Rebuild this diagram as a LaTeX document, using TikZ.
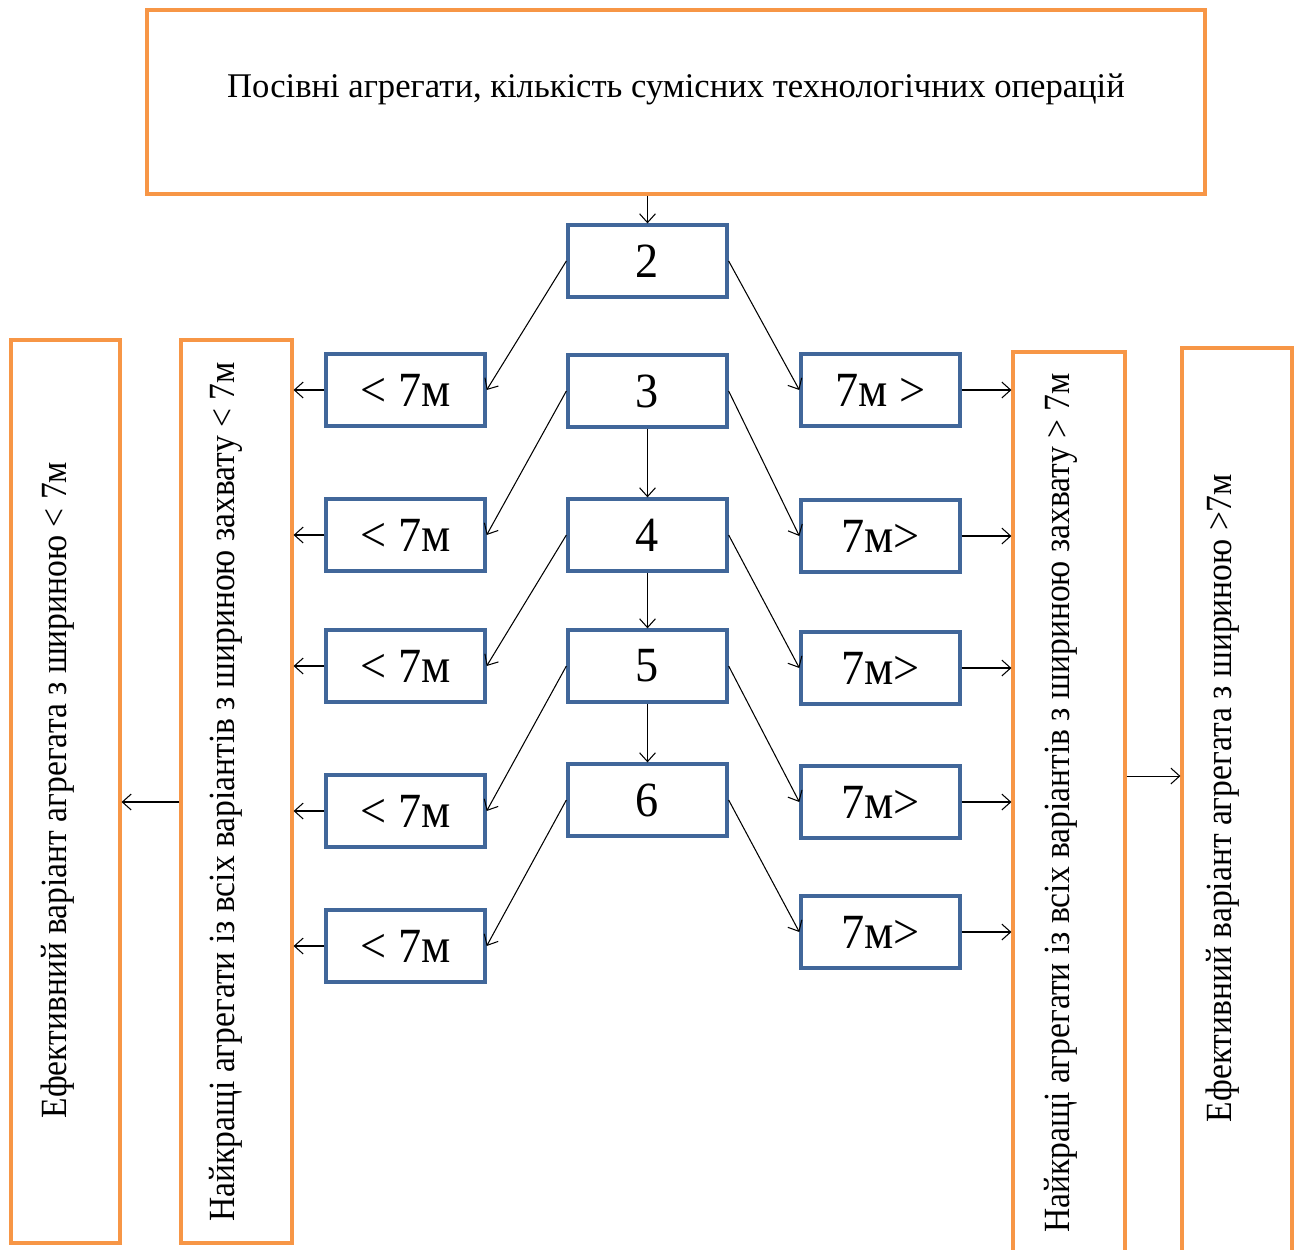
\documentclass[tikz,border=0pt]{standalone}
\usepackage{fontspec}
\setmainfont{Liberation Serif}
\newfontfamily\condf[FakeStretch=0.91]{Liberation Serif}
\newfontfamily\boxf[FakeStretch=0.94]{Liberation Serif}
\usetikzlibrary{arrows.meta}
\definecolor{org}{HTML}{F79646}
\definecolor{blu}{HTML}{41679A}
\begin{document}
\begin{tikzpicture}[x=0.02cm,y=-0.02cm,
  ob/.style={draw=org, line width=1.8pt, inner sep=0pt, fill=white},
  bb/.style={draw=blu, line width=1.9pt, minimum width=3.18cm, minimum height=1.44cm, inner sep=0pt, font=\boxf\fontsize{28}{32}\selectfont},
  vt/.style={rotate=90, inner sep=0pt, font=\condf\fontsize{21}{24}\selectfont},
  arr/.style={-{Straight Barb[length=5pt,width=9pt]}, line width=0.6pt}]
\useasboundingbox (0,0) rectangle (1297,1249);
% top box
\node[ob, minimum width=1058*0.02cm, minimum height=184*0.02cm] (T) at (676,102) {};
\node[font=\fontsize{19.7}{23}\selectfont, inner sep=0pt] (Tt) at (676,89) {Посівні агрегати, кількість сумісних технологічних операцій};
% orange side boxes
\node[ob, minimum width=109*0.02cm, minimum height=903*0.02cm] (L1) at (65.5,791.5) {};
\node[ob, minimum width=111*0.02cm, minimum height=903*0.02cm] (L2) at (236.5,791.5) {};
\node[ob, minimum width=112*0.02cm, minimum height=904*0.02cm] (R1) at (1069,804) {};
\node[ob, minimum width=110*0.02cm, minimum height=908*0.02cm] (R2) at (1237,802) {};
\node[vt] (L1t) at (58,790) {Ефективний варіант агрегата з шириною < 7м};
\node[vt] (L2t) at (226,792) {Найкращі агрегати із всіх варіантів з шириною захвату < 7м};
\node[vt] (R1t) at (1061,803) {Найкращі агрегати із всіх варіантів з шириною захвату > 7м};
\node[vt] (R2t) at (1223,798) {Ефективний варіант агрегата з шириною >7м};
% centre boxes
\node[bb] (c2) at (647.5,261) {2};
\node[bb] (c3) at (647.5,391) {3};
\node[bb] (c4) at (647.5,535) {4};
\node[bb] (c5) at (647.5,666) {5};
\node[bb] (c6) at (647.5,800) {6};
% left boxes
\node[bb] (l1) at (405.5,390) {< 7м};
\node[bb] (l2) at (405.5,535) {< 7м};
\node[bb] (l3) at (405.5,666) {< 7м};
\node[bb] (l4) at (405.5,811) {< 7м};
\node[bb] (l5) at (405.5,946) {< 7м};
% right boxes
\node[bb] (r1) at (880.5,390) {7м >};
\node[bb] (r2) at (880.5,536) {7м>};
\node[bb] (r3) at (880.5,668) {7м>};
\node[bb] (r4) at (880.5,802) {7м>};
\node[bb] (r5) at (880.5,932) {7м>};
% arrows
\draw[arr] (c2.north |- T.south) -- (c2.north);
\draw[arr] (c3) -- (c4);
\draw[arr] (c4) -- (c5);
\draw[arr] (c5) -- (c6);
\foreach \a/\b in {c2/1,c3/2,c4/3,c5/4,c6/5}{
  \draw[arr] (\a.west) -- (l\b.east);
  \draw[arr] (\a.east) -- (r\b.west);
  \draw[arr] (l\b.west) -- (l\b.west -| L2.east);
  \draw[arr] (r\b.east) -- (r\b.east -| R1.west);
}
\draw[arr] ([yshift=-0.21cm]L2.west) -- ([yshift=-0.21cm]L2.west -| L1.east);
\draw[arr] ([yshift=0.56cm]R1.east) -- ([yshift=0.56cm]R1.east -| R2.west);
\end{tikzpicture}
\end{document}
